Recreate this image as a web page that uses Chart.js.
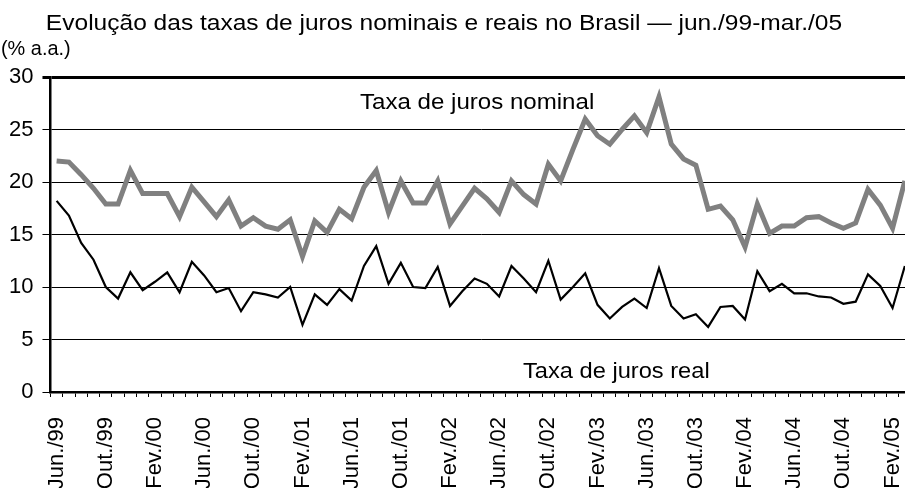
<!DOCTYPE html>
<html lang="pt">
<head>
<meta charset="utf-8">
<title>Taxas de juros nominais e reais no Brasil</title>
<script src="https://cdn.jsdelivr.net/npm/chart.js@4"></script>
<style>
  html, body { margin: 0; padding: 0; background: #fff; overflow: hidden; }
  #wrap { position: relative; width: 911px; height: 488px; }
</style>
</head>
<body>
<div id="wrap"><canvas id="chart"></canvas></div>
<script>
// meses jun./99 - mar./05
const categories = [
  'Jun./99','Jul./99','Ago./99','Set./99','Out./99','Nov./99','Dez./99',
  'Jan./00','Fev./00','Mar./00','Abr./00','Mai./00','Jun./00','Jul./00','Ago./00','Set./00','Out./00','Nov./00','Dez./00',
  'Jan./01','Fev./01','Mar./01','Abr./01','Mai./01','Jun./01','Jul./01','Ago./01','Set./01','Out./01','Nov./01','Dez./01',
  'Jan./02','Fev./02','Mar./02','Abr./02','Mai./02','Jun./02','Jul./02','Ago./02','Set./02','Out./02','Nov./02','Dez./02',
  'Jan./03','Fev./03','Mar./03','Abr./03','Mai./03','Jun./03','Jul./03','Ago./03','Set./03','Out./03','Nov./03','Dez./03',
  'Jan./04','Fev./04','Mar./04','Abr./04','Mai./04','Jun./04','Jul./04','Ago./04','Set./04','Out./04','Nov./04','Dez./04',
  'Jan./05','Fev./05','Mar./05'
];

// % a.a.
const nominal = [
  22.0, 21.9, 20.7, 19.4, 17.9, 17.9, 21.1, 18.9, 18.9, 18.9,
  16.7, 19.5, 18.1, 16.7, 18.3, 15.8, 16.6, 15.8, 15.5, 16.4,
  12.9, 16.3, 15.2, 17.4, 16.5, 19.5, 21.1, 17.1, 20.1, 18.0,
  18.0, 20.1, 16.0, 17.7, 19.4, 18.4, 17.1, 20.1, 18.8, 17.9,
  21.7, 20.1, 23.1, 26.0, 24.4, 23.6, 25.0, 26.3, 24.7, 28.1,
  23.6, 22.2, 21.6, 17.4, 17.7, 16.4, 13.8, 17.9, 15.1, 15.8,
  15.8, 16.6, 16.7, 16.1, 15.6, 16.1, 19.3, 17.8, 15.6, 20.1
];
const real = [
  18.2, 16.8, 14.2, 12.6, 10.0, 8.9, 11.4, 9.7, 10.5, 11.4,
  9.5, 12.4, 11.1, 9.5, 9.9, 7.7, 9.5, 9.3, 9.0, 10.0,
  6.4, 9.3, 8.3, 9.8, 8.7, 12.0, 13.9, 10.3, 12.3, 10.0,
  9.9, 11.9, 8.2, 9.6, 10.8, 10.3, 9.1, 12.0, 10.8, 9.5,
  12.5, 8.8, 10.0, 11.3, 8.3, 7.0, 8.1, 8.9, 8.0, 11.8,
  8.2, 7.0, 7.4, 6.2, 8.1, 8.2, 6.9, 11.5, 9.6, 10.3,
  9.4, 9.4, 9.1, 9.0, 8.4, 8.6, 11.2, 10.1, 8.0, 12.0
];

const title = 'Evolução das taxas de juros nominais e reais no Brasil — jun./99-mar./05';
const unitLabel = '(% a.a.)';
const nominalLabel = 'Taxa de juros nominal';
const realLabel = 'Taxa de juros real';

const FONT = '"Liberation Sans", Arial, sans-serif';
Chart.defaults.font.family = FONT;
Chart.defaults.color = '#000';

// texto um pouco mais largo que o normal, como no original
function wideText(ctx, txt, x, y, size, sx, align) {
  ctx.save();
  ctx.font = size + 'px ' + FONT;
  ctx.textAlign = align || 'left';
  ctx.textBaseline = 'alphabetic';
  ctx.translate(x, y);
  ctx.scale(sx, 1);
  ctx.fillText(txt, 0, 0);
  ctx.restore();
}

const textPlugin = {
  id: 'texts',
  afterDraw(chart) {
    const ctx = chart.ctx;
    ctx.fillStyle = '#000';
    wideText(ctx, title, 444, 30, 22, 1.115, 'center');
    wideText(ctx, unitLabel, 1, 55, 20.5, 0.97);
    wideText(ctx, nominalLabel, 360, 109, 21.5, 1.12);
    wideText(ctx, realLabel, 523, 378, 21.5, 1.1);
  }
};

new Chart(document.getElementById('chart'), {
  type: 'line',
  data: {
    labels: categories,
    datasets: [
      { label: nominalLabel, data: nominal, borderColor: '#808080', borderWidth: 5,
        pointRadius: 0, tension: 0, fill: false },
      { label: realLabel, data: real, borderColor: '#000', borderWidth: 2.2,
        pointRadius: 0, tension: 0, fill: false }
    ]
  },
  options: {
    responsive: true,
    maintainAspectRatio: false,
    animation: false,
    layout: { padding: { top: 77, left: 0, right: 0, bottom: 0 } },
    plugins: { legend: { display: false }, tooltip: { enabled: false } },
    scales: {
      x: {
        offset: true,
        // altura fixa do eixo: área do gráfico termina em ~392px
        afterFit: s => { s.paddingRight = 0; s.paddingLeft = 0; s.height = 96; },
        grid: { offset: true, drawOnChartArea: false, tickLength: 5, color: '#000', lineWidth: 1 },
        border: { color: '#000', width: 2.5 },
        ticks: {
          autoSkip: false, maxRotation: 90, minRotation: 90, padding: 20,
          font: { size: 22 },
          callback: (v, i) => i % 4 === 0 ? categories[i] : ''
        }
      },
      y: {
        min: 0, max: 30,
        grid: {
          color: '#000', tickLength: 8,
          lineWidth: c => (c.tick && c.tick.value === 30) ? 3 : 1
        },
        border: { color: '#000', width: 2.5 },
        ticks: { stepSize: 5, padding: 9, font: { size: 22 } }
      }
    }
  },
  plugins: [textPlugin]
});
</script>
</body>
</html>
